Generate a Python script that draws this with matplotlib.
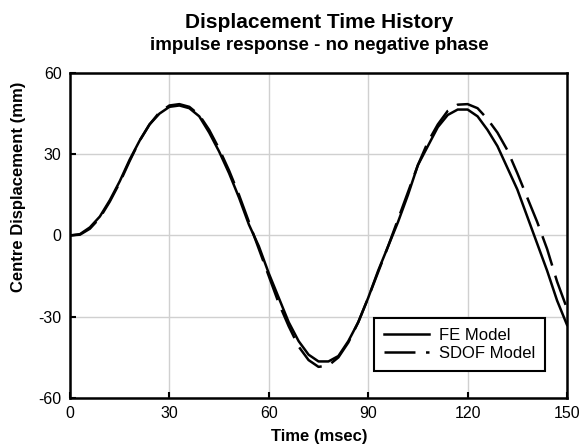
import matplotlib
matplotlib.use("Agg")
import matplotlib.pyplot as plt

plt.rcParams['font.family'] = ['Liberation Sans', 'DejaVu Sans']
plt.rcParams['axes.unicode_minus'] = False
plt.rcParams['lines.scale_dashes'] = False

time_ms = [0, 3, 6, 9, 12, 15, 18, 21, 24, 27, 30, 33, 36, 39, 42, 45, 48, 51, 54, 57,
           60, 63, 66, 69, 72, 75, 78, 81, 84, 87, 90, 93, 96, 99, 102, 105, 108, 111,
           114, 117, 120, 123, 126, 129, 132, 135, 138, 141, 144, 147, 150]

fe_model = [0, 0.5, 3, 7, 13, 20, 28, 35, 41, 45, 47.5, 48, 47, 44, 38, 31, 23, 14, 4, -4,
            -14, -23, -32, -39, -44, -46.5, -46.5, -44.5, -39, -32, -23, -13, -4, 5, 15, 26,
            33, 40, 44.5, 46.5, 46.5, 44, 39, 33, 25, 17, 7, -3, -13, -24, -33]

sdof_model = [0, 0.3, 2.5, 6.5, 12.5, 19.5, 27.5, 35, 41, 45.5, 48, 48.5, 47.5, 44.5, 39, 32,
              24, 15, 5, -5, -15, -25, -33.5, -41, -46, -48.5, -48, -45, -39.5, -32, -23,
              -13.5, -4, 6, 16, 26, 34.5, 41, 46, 48.3, 48.5, 47, 43, 38, 31.5, 23, 14, 5,
              -5, -17, -27]

x_ticks = [0, 30, 60, 90, 120, 150]
y_ticks = [-60, -30, 0, 30, 60]

fig = plt.figure(figsize=(5.84, 4.45), dpi=100)
ax = fig.add_axes([0.1199, 0.1056, 0.851, 0.7304])

ax.plot(time_ms, fe_model, color='black', lw=1.8, label='FE Model')
ax.plot(time_ms, sdof_model, color='black', lw=1.8, dashes=(22.3, 7.6), label='SDOF Model')

ax.set_xlim(0, 150)
ax.set_ylim(-60, 60)
ax.set_xticks(x_ticks)
ax.set_yticks(y_ticks)
ax.grid(True, color='#d0d0d0', lw=1)
ax.set_axisbelow(True)
ax.tick_params(direction='in', length=4, width=1.5, labelsize=11.5, colors='black', pad=6)
for s in ax.spines.values():
    s.set_linewidth(1.8)
    s.set_color('black')

fig.text(0.546, 0.009, 'Time (msec)', ha='center', va='baseline',
         fontsize=12, fontweight='bold')
fig.text(0.032, 0.581, 'Centre Displacement (mm)', ha='center', va='center',
         rotation=90, fontsize=12, fontweight='bold')

fig.text(0.546, 0.936, 'Displacement Time History', ha='center', va='baseline',
         fontsize=15, fontweight='bold')
fig.text(0.546, 0.888, 'impulse response - no negative phase', ha='center', va='baseline',
         fontsize=13.5, fontweight='bold')

leg = ax.legend(loc='lower right', bbox_to_anchor=(0.956, 0.083), fontsize=12,
                frameon=True, fancybox=False, edgecolor='black', framealpha=1,
                handlelength=2.7, handletextpad=0.6, borderpad=0.6, labelspacing=0.2,
                borderaxespad=0)
leg.get_frame().set_linewidth(1.5)

fig.savefig('out.png', dpi=100)
